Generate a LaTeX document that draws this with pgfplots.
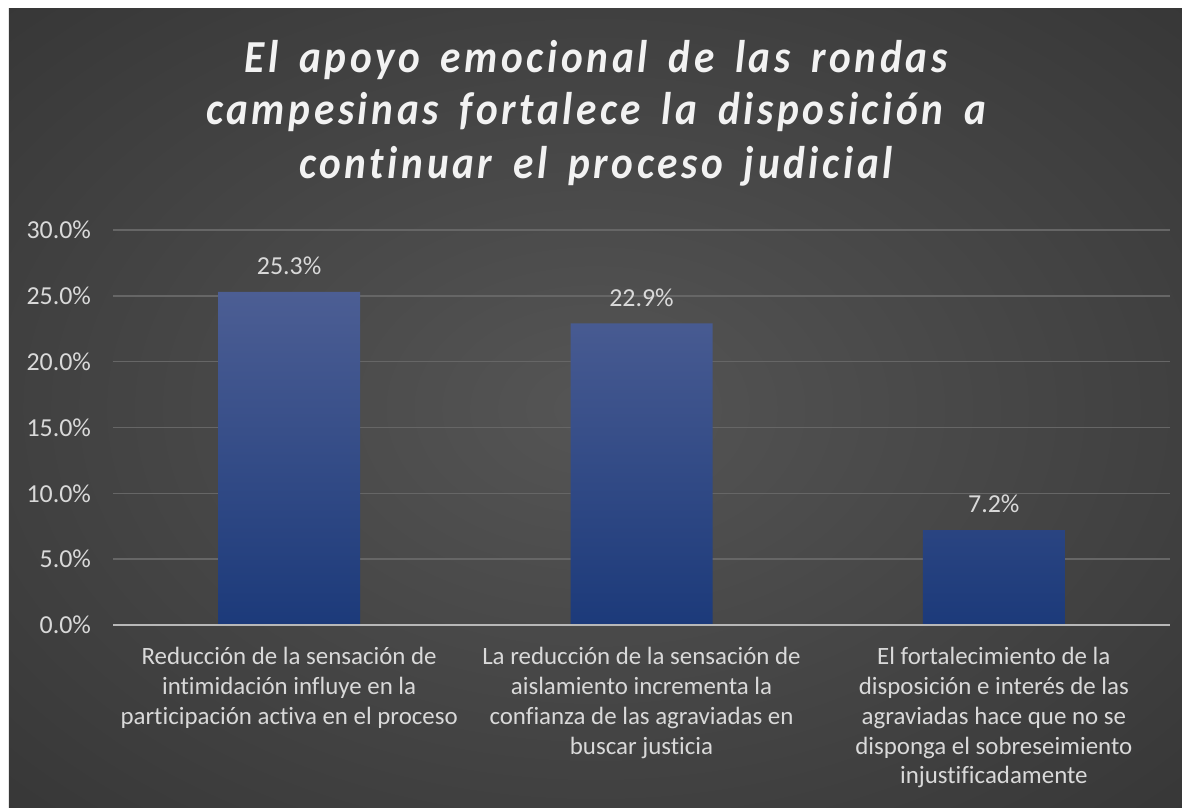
\documentclass[border=0pt]{standalone}
\usepackage{fontspec}
\setmainfont{Carlito}[Ligatures=NoCommon]
\newfontfamily\titlefont{Carlito}[LetterSpace=8, WordSpace=1.6, FakeStretch=0.9, Ligatures=NoCommon]
\usepackage{pgfplots}
\pgfplotsset{compat=1.18}
\definecolor{bgin}{HTML}{555555}
\definecolor{bgmid}{HTML}{404040}
\definecolor{bgout}{HTML}{2B2B2B}
\definecolor{bgcorner}{HTML}{242424}
\definecolor{gridc}{HTML}{666666}
\definecolor{axisc}{HTML}{B8B8B8}
\definecolor{labc}{HTML}{D9D9D9}
\definecolor{bartop}{HTML}{4C5E94}
\definecolor{barbot}{HTML}{1C3A7A}
\pgfdeclareradialshading{bgshade}{\pgfpoint{0bp}{0bp}}{color(0bp)=(bgin); color(25bp)=(bgmid); color(50bp)=(bgout); color(75bp)=(bgcorner)}
\begin{document}
\begin{tikzpicture}
\fill[white] (-56.5bp,-91.5bp) rectangle (534.5bp,312.5bp);
\shade[shading=bgshade] (-52bp,-91.5bp) rectangle (534.5bp,308bp);
\begin{axis}[
  at={(0,0)}, anchor=south west,
  scale only axis,
  width=528.5bp, height=197.5bp,
  xmin=-0.5, xmax=2.5, ymin=0, ymax=30,
  ytick={0,5,...,30},
  xtick={0,1,2},
  xticklabels={{Reducción de la sensación de\\intimidación influye en la\\participación activa en el proceso},
               {La reducción de la sensación de\\aislamiento incrementa la\\confianza de las agraviadas en\\buscar justicia},
               {El fortalecimiento de la\\disposición e interés de las\\agraviadas hace que no se\\disponga el sobreseimiento\\injustificadamente}},
  /pgf/number format/assume math mode=true,
  yticklabel={\pgfmathprintnumber[fixed,fixed zerofill,precision=1]{\tick}\%},
  yticklabel style={font=\fontsize{13}{15}\selectfont, text=labc, xshift=-7.5bp},
  xticklabel style={font=\fontsize{12.5}{15}\selectfont, text=labc, align=center, yshift=-7.5bp},
  axis line style={draw=none},
  major tick length=0pt,
  ymajorgrids,
  grid style={color=gridc, line width=0.8bp},
  ybar, bar width=71bp,
  nodes near coords={\pgfmathprintnumber[fixed,fixed zerofill,precision=1]{\pgfplotspointmeta}\%},
  nodes near coords style={font=\fontsize{13}{15}\selectfont, text=labc, yshift=5bp},
]
\addplot[draw=none, top color=bartop, bottom color=barbot] coordinates {(0,25.3) (1,22.9) (2,7.2)};
\draw[axisc, line width=1.3bp] (axis cs:-0.5,0) -- (axis cs:2.5,0);
\end{axis}
\node[anchor=base, text=white!95!black, font=\titlefont\fontsize{23}{27}\selectfont\bfseries\itshape] at (241.5bp,276bp) {El apoyo emocional de las rondas};
\node[anchor=base, text=white!95!black, font=\titlefont\fontsize{23}{27}\selectfont\bfseries\itshape] at (241.5bp,250bp) {campesinas fortalece la disposición a};
\node[anchor=base, text=white!95!black, font=\titlefont\fontsize{23}{27}\selectfont\bfseries\itshape] at (241.5bp,223bp) {continuar el proceso judicial};
\pgfresetboundingbox
\useasboundingbox (-56.5bp,-91.5bp) rectangle (534.5bp,312.5bp);
\end{tikzpicture}
\end{document}
